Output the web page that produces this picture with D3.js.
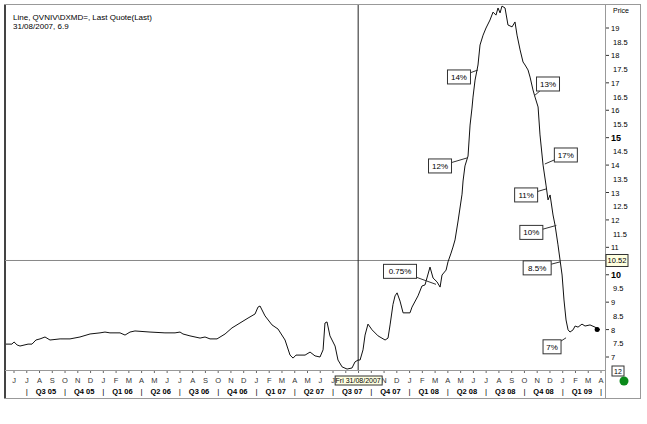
<!DOCTYPE html>
<html><head><meta charset="utf-8">
<script src="https://cdn.jsdelivr.net/npm/d3@7"></script>
<style>body{margin:0;background:#fff}svg{font-family:"Liberation Sans",Arial,sans-serif}</style>
</head><body><svg id="c" width="647" height="424"></svg>
<script>
// months since June 2005 and price values
const months=[-0.63,-0.16,0,0.24,0.47,1.10,1.41,1.72,2.04,2.43,2.82,3.61,4.39,5.17,5.96,6.74,7.13,7.52,8.31,8.70,9.09,9.48,10.66,11.83,12.62,13.01,13.24,13.79,14.58,14.97,15.36,15.91,16.54,17.08,17.71,18.34,18.89,19.12,19.28,19.67,20.22,20.69,21.24,21.63,21.87,22.10,22.81,23.20,23.59,23.98,24.22,24.37,24.53,24.76,25.16,25.39,25.71,26.10,26.49,26.72,26.96,27.12,27.35,27.51,27.74,28.06,28.53,29.08,29.31,29.47,29.70,29.86,30.02,30.25,30.49,30.72,31.03,31.19,31.66,31.97,32.21,32.60,32.84,33.15,33.39,33.54,33.86,34.01,34.25,34.40,34.56,34.80,35.11,35.19,35.34,35.58,35.74,35.89,35.97,36.13,36.36,36.52,36.76,36.99,37.30,37.54,37.77,37.93,38.09,38.24,38.48,38.71,39.03,39.26,39.42,39.66,39.89,40.05,40.28,40.44,40.67,40.83,41.07,41.22,41.46,41.69,41.85,42.01,42.24,42.40,42.63,42.79,42.95,43.10,43.26,43.42,43.57,43.81,43.97,44.20,44.51,44.75,45.14,45.53,45.92];
const prices=[7.47,7.47,7.55,7.44,7.40,7.47,7.47,7.62,7.66,7.73,7.62,7.66,7.66,7.73,7.84,7.88,7.91,7.88,7.88,7.80,7.91,7.95,7.91,7.88,7.88,7.91,7.84,7.77,7.69,7.73,7.66,7.66,7.84,8.06,8.24,8.42,8.57,8.82,8.86,8.50,8.17,8.02,7.62,7.07,6.96,7.07,7.07,7.18,7.04,7.00,7.26,8.24,8.28,7.77,7.40,6.89,6.64,6.56,6.60,6.82,6.89,6.89,7.26,7.80,8.20,7.99,7.77,7.62,7.69,8.17,8.92,9.23,9.34,9.04,8.61,8.61,8.61,8.82,9.23,9.59,9.63,10.28,9.88,9.74,9.55,9.99,10.17,10.47,10.79,11.01,11.27,11.96,12.94,13.42,13.97,14.33,15.46,16.08,16.48,17.10,17.65,18.38,18.74,19.0,19.29,19.58,19.47,19.73,19.55,19.80,19.73,19.11,19.04,19.22,18.74,18.20,17.76,17.65,17.47,17.21,16.74,16.48,16.12,15.10,14.00,13.27,12.73,12.91,12.18,11.81,11.09,10.54,9.99,9.08,8.35,7.99,7.91,7.99,8.13,8.09,8.20,8.13,8.17,8.09,7.99];
const annMonths=[36.36,40.75,35.5,41.6,41.7,42.5,42.8,43.26,33.07];
const annValues=[17.47,16.52,14.26,14.04,13.13,11.8,10.47,7.7,9.65];
const annText=["14%","13%","12%","17%","11%","10%","8.5%","7%","0.75%"];
const annDx=[-19,14,-27,21,-20,-25,-23,-14,-36], annDy=[7,-12,8,-9,6,7,6,9,-13];
const yTicks=[7,7.5,8,8.5,9,9.5,10,11,11.5,12,12.5,13,13.5,14,14.5,15,15.5,16,16.5,17,17.5,18,18.5,19];
const monthLetters=["J","J","A","S","O","N","D","J","F","M","A","M","J","J","A","S","O","N","D","J","F","M","A","M","J","J","","","","N","D","J","F","M","A","M","J","J","A","S","O","N","D","J","F","M","A"];
const quarters=["Q3 05","Q4 05","Q1 06","Q2 06","Q3 06","Q4 06","Q1 07","Q2 07","Q3 07","Q4 07","Q1 08","Q2 08","Q3 08","Q4 08","Q1 09"];
const hLine=10.52, vLineMonth=26.97;

const svg=d3.select("#c");
const x=d3.scaleLinear().domain([0,46]).range([14,601]);
const y=d3.scaleLinear().domain([7,19]).range([357,28]);
svg.append("rect").attr("x",4.5).attr("y",4.5).attr("width",636).attr("height",394).attr("fill","none").attr("stroke","#999");
svg.append("line").attr("x1",5).attr("x2",5).attr("y1",5).attr("y2",398).attr("stroke","#444").attr("stroke-width",2);
svg.append("line").attr("x1",605.5).attr("x2",605.5).attr("y1",5).attr("y2",398).attr("stroke","#999");
svg.append("line").attr("x1",5).attr("x2",605).attr("y1",370.5).attr("y2",370.5).attr("stroke","#999");
svg.append("text").attr("x",13).attr("y",20).attr("font-size",8).text("Line, QVNIV\\DXMD=, Last Quote(Last)");
svg.append("text").attr("x",13).attr("y",29).attr("font-size",8).text("31/08/2007, 6.9");
svg.append("line").attr("x1",5).attr("x2",605).attr("y1",y(hLine)).attr("y2",y(hLine)).attr("stroke","#888");
svg.append("line").attr("x1",x(vLineMonth)).attr("x2",x(vLineMonth)).attr("y1",5).attr("y2",370).attr("stroke","#222");
svg.append("path").datum(months.map((m,i)=>[m,prices[i]])).attr("fill","none").attr("stroke","#111").attr("stroke-width",1)
  .attr("d",d3.line().x(d=>x(d[0])).y(d=>y(d[1])));
annText.forEach((t,i)=>{
  const ax=x(annMonths[i]), ay=y(annValues[i]), bx=ax+annDx[i], by=ay+annDy[i];
  svg.append("line").attr("x1",ax).attr("y1",ay).attr("x2",bx).attr("y2",by).attr("stroke","#333");
  const w=t.length*5+8;
  svg.append("rect").attr("x",bx-w/2).attr("y",by-7).attr("width",w).attr("height",14).attr("fill","#fff").attr("stroke","#333");
  svg.append("text").attr("x",bx).attr("y",by+3).attr("text-anchor","middle").attr("font-size",8).text(t);
});
svg.append("text").attr("x",613).attr("y",13).attr("font-size",7).text("Price");
yTicks.forEach(v=>{
  const yy=y(v), whole=Number.isInteger(v);
  if(whole) svg.append("line").attr("x1",606).attr("x2",609).attr("y1",yy).attr("y2",yy).attr("stroke","#333");
  svg.append("text").attr("x",whole?611:613).attr("y",yy+3).attr("font-size",(v===10||v===15)?9:7.5)
    .attr("font-weight",(v===10||v===15)?"bold":"normal").text(v);
});
svg.append("rect").attr("x",606).attr("y",y(hLine)-6).attr("width",22).attr("height",12).attr("fill","#ffffe0").attr("stroke","#333");
svg.append("text").attr("x",617).attr("y",y(hLine)+3).attr("text-anchor","middle").attr("font-size",7.5).text(hLine.toFixed(2));
svg.append("circle").attr("cx",x(45.7)).attr("cy",y(8)).attr("r",2.5).attr("fill","#000");
svg.append("rect").attr("x",612).attr("y",366).attr("width",12).attr("height",10).attr("fill","#fff").attr("stroke","#333");
svg.append("text").attr("x",618).attr("y",374).attr("text-anchor","middle").attr("font-size",7).text("12");
svg.append("circle").attr("cx",624).attr("cy",381).attr("r",4.5).attr("fill","#0a8a1a");
monthLetters.forEach((l,i)=>{
  svg.append("line").attr("x1",x(i)).attr("x2",x(i)).attr("y1",371).attr("y2",373).attr("stroke","#666");
  if(l) svg.append("text").attr("x",x(i)).attr("y",383).attr("text-anchor","middle").attr("font-size",7.5).attr("fill","#333").text(l);
});
quarters.forEach((q,i)=>{
  const s=1+3*i;
  svg.append("text").attr("x",x(s)).attr("y",394).attr("text-anchor","middle").attr("font-size",8).text("|");
  svg.append("text").attr("x",x(s+1.5)).attr("y",394).attr("text-anchor","middle").attr("font-size",7.5).attr("font-weight","bold").attr("fill","#000").text(q);
});
svg.append("text").attr("x",x(46)).attr("y",394).attr("text-anchor","middle").attr("font-size",8).text("|");
svg.append("rect").attr("x",x(vLineMonth)-23).attr("y",376).attr("width",47).attr("height",9).attr("fill","#ffffe0").attr("stroke","#333");
svg.append("text").attr("x",x(vLineMonth)).attr("y",383).attr("text-anchor","middle").attr("font-size",7).text("Fri 31/08/2007");
</script></body></html>
